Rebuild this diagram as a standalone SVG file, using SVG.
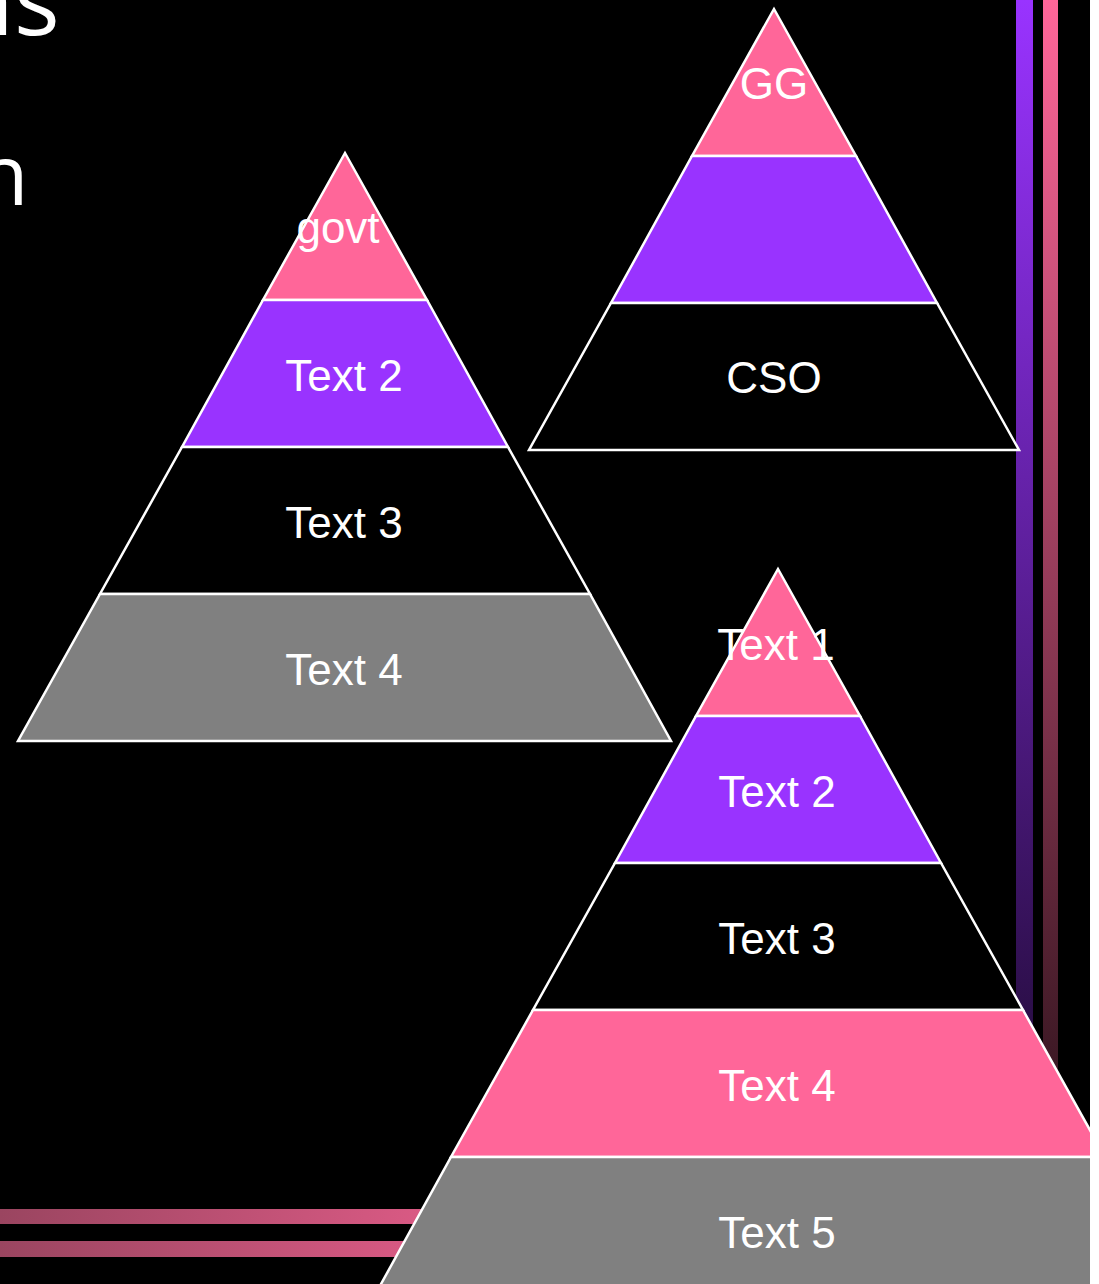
<svg xmlns="http://www.w3.org/2000/svg" width="1099" height="1284" viewBox="0 0 1099 1284">
<defs>
<clipPath id="slide"><rect x="0" y="0" width="1090" height="1284"/></clipPath>
<linearGradient id="gPurple" gradientUnits="userSpaceOnUse" x1="0" y1="0" x2="0" y2="1430"><stop offset="0" stop-color="#9933ff"/><stop offset="1" stop-color="#000000"/></linearGradient>
<linearGradient id="gPinkV" gradientUnits="userSpaceOnUse" x1="0" y1="0" x2="0" y2="1400"><stop offset="0" stop-color="#ff6699"/><stop offset="1" stop-color="#000000"/></linearGradient>
<linearGradient id="gPinkH" gradientUnits="userSpaceOnUse" x1="0" y1="0" x2="672" y2="0"><stop offset="0" stop-color="#9a4560"/><stop offset="1" stop-color="#ff6699"/></linearGradient>
<style>
.lay{stroke:#ffffff;stroke-width:2.5;stroke-linejoin:miter}
.pk{fill:#ff6699}.pu{fill:#9933ff}.bk{fill:#000000}.gy{fill:#808080}
.lbl{font-family:"Liberation Sans",Arial,sans-serif;font-size:44px;fill:#ffffff;text-anchor:middle}
.title{font-family:"Open Sans","Noto Sans",sans-serif;fill:#ffffff}
</style>
</defs>
<rect x="0" y="0" width="1099" height="1284" fill="#ffffff"/>
<g clip-path="url(#slide)">
<rect x="0" y="0" width="1090" height="1284" fill="#000000"/>
<g id="decor">
<rect x="1016" y="0" width="17" height="1284" fill="url(#gPurple)"/>
<rect x="1043" y="0" width="15" height="1284" fill="url(#gPinkV)"/>
<rect x="0" y="1209" width="700" height="15" fill="url(#gPinkH)"/>
<rect x="0" y="1241" width="700" height="16" fill="url(#gPinkH)"/>
</g>
<g id="title">
<text class="title" x="-45" y="35" font-size="96">ns</text>
<text class="title" x="-23" y="205" font-size="84">n</text>
</g>
<g id="pyramid1">
<polygon class="lay pk" points="345,153 427,300 263,300"/>
<polygon class="lay pu" points="263,300 427,300 508,447 182,447"/>
<polygon class="lay bk" points="182,447 508,447 590,594 100,594"/>
<polygon class="lay gy" points="100,594 590,594 671,741 18,741"/>
<text class="lbl" x="338" y="243">govt</text>
<text class="lbl" x="344" y="391">Text 2</text>
<text class="lbl" x="344" y="538">Text 3</text>
<text class="lbl" x="344" y="685">Text 4</text>
</g>
<g id="pyramid2">
<polygon class="lay pk" points="774,9 856,156 692,156"/>
<polygon class="lay pu" points="692,156 856,156 937,303 611,303"/>
<polygon class="lay bk" points="611,303 937,303 1019,450 529,450"/>
<text class="lbl" x="774" y="99">GG</text>
<text class="lbl" x="774" y="393">CSO</text>
</g>
<g id="pyramid3">
<polygon class="lay pk" points="778,569 860,716 696,716"/>
<polygon class="lay pu" points="696,716 860,716 941,863 615,863"/>
<polygon class="lay bk" points="615,863 941,863 1023,1010 533,1010"/>
<polygon class="lay pk" points="533,1010 1023,1010 1105,1157 451,1157"/>
<polygon class="lay gy" points="451,1157 1105,1157 1186,1304 370,1304"/>
<text class="lbl" x="776" y="660">Text 1</text>
<text class="lbl" x="777" y="807">Text 2</text>
<text class="lbl" x="777" y="954">Text 3</text>
<text class="lbl" x="777" y="1101">Text 4</text>
<text class="lbl" x="777" y="1248">Text 5</text>
</g>
</g>
</svg>
